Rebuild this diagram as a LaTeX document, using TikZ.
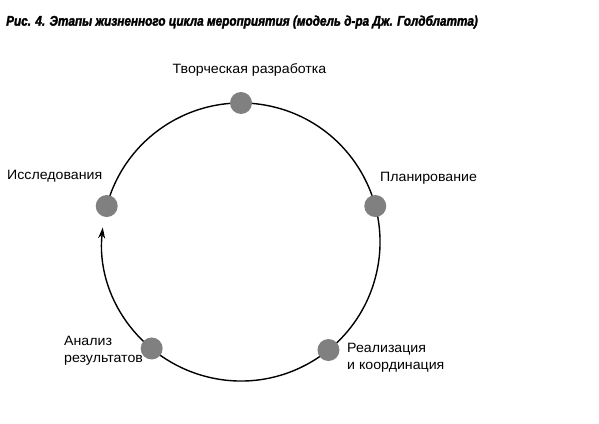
\documentclass[tikz,border=0pt]{standalone}
\usepackage{fontspec}
\setmainfont[FakeStretch=1.05]{Liberation Sans}
\newfontfamily\titlefont[FakeStretch=0.84, FakeBold=2]{Liberation Sans Bold Italic}
\usetikzlibrary{arrows,arrows.meta,positioning}
\tikzset{font=\fontsize{13.5}{17}\selectfont}
\tikzset{stage/.style={circle, fill=black!50, minimum size=22pt, inner sep=0pt}}
\tikzset{caption/.style={align=left, inner sep=0pt}}

\begin{document}
\begin{tikzpicture}[x=1pt,y=1pt]
  \useasboundingbox (0,0) rectangle (599,423);
  \coordinate (o) at (241,181);
  \coordinate (s1) at ([shift={(165:139)}]o);
  \coordinate (s2) at ([shift={(90:139)}]o);
  \coordinate (s3) at ([shift={(15:139)}]o);
  \coordinate (s4) at ([shift={(-51:139)}]o);
  \coordinate (s5) at ([shift={(-130:139)}]o);

  \draw[line width=1.4pt, -{Stealth[length=11pt,width=7pt]}] (s1)
    arc[start angle=165, end angle=-186, radius=139];

  \node[stage] (research) at (s1) {};
  \node[stage] (design) at (s2) {};
  \node[stage] (planning) at (s3) {};
  \node[stage] (coord) at (s4) {};
  \node[stage] (analysis) at (s5) {};

  \node[anchor=west, inner sep=0pt] (title) at (6,401)
    {\titlefont\fontsize{14}{16}\selectfont Рис. 4. Этапы жизненного цикла мероприятия (модель д-ра Дж. Голдблатта)};
  \node[caption] (l2) at (249.5,353) {Творческая разработка};
  \node[caption, anchor=west] (l1) at (7,247) {Исследования};
  \node[caption, anchor=west] (l3) at (380,245) {Планирование};
  \node[caption, anchor=west] (l5) at (64,72) {Анализ\\результатов};
  \node[caption, anchor=west] (l4) at (347,65) {Реализация\\и координация};
\end{tikzpicture}
\end{document}
